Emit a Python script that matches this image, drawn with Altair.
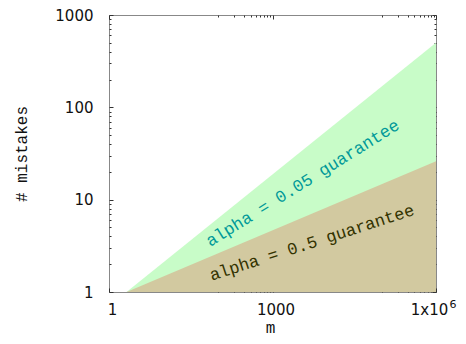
import altair as alt
import pandas as pd

# Boundary lines (log-log straight): m values and # mistakes
m_vals = [2.1, 1000000]
green_vals = [1, 500]   # alpha = 0.05 guarantee
tan_vals = [1, 26]      # alpha = 0.5 guarantee

x_major = [1, 1000, 1000000]
x_minor = [100, 200, 300, 400, 500, 600, 700, 800, 900,
           100000, 200000, 300000, 400000, 500000, 600000, 700000, 800000, 900000]
y_major = [1, 10, 100, 1000]
y_minor = [2, 3, 4, 5, 6, 7, 8, 9, 20, 30, 40, 50, 60, 70, 80, 90,
           200, 300, 400, 500, 600, 700, 800, 900]

ann_text = ["alpha = 0.05 guarantee", "alpha = 0.5 guarantee"]
ann_m = [3600, 5300]
ann_v = [15, 3.4]
ann_angle = [328, 342]
ann_color = ["#009999", "#333300"]

sup_m = [1000000]
sup_v = [1]
sup_text = ["6"]

green_df = pd.DataFrame({"m": m_vals, "v": green_vals})
tan_df = pd.DataFrame({"m": m_vals, "v": tan_vals})
ann_df = pd.DataFrame({"m": ann_m, "v": ann_v, "t": ann_text, "a": ann_angle, "c": ann_color})
sup_df = pd.DataFrame({"m": sup_m, "v": sup_v, "t": sup_text})

xs = alt.Scale(type="log", domain=[1, 1000000], nice=False)
ys = alt.Scale(type="log", domain=[1, 1000], nice=False)

TICK = "#333333"
LABEL_FONT = "DejaVu Sans"
MONO = "Liberation Mono"

def xaxis(values, orient, size, labels=False, title=None):
    kw = dict(values=values, orient=orient, offset=-size, tickSize=size, domain=False,
              grid=False, tickColor=TICK, labels=labels, title=title)
    if labels:
        kw.update(labelExpr="datum.value >= 1000000 ? '1x10' : format(datum.value, 'd')",
                  labelFont=LABEL_FONT, labelFontSize=15, labelColor="#111111",
                  labelPadding=10, labelFlush=False,
                  labelOffset={"condition": {"test": "datum.value >= 1000000", "value": -7},
                               "value": 3})
    if title:
        kw.update(titleFont=MONO, titleFontSize=16, titleFontWeight="normal",
                  titleColor="#111111", titleX=161, titleY=44, titleBaseline="alphabetic")
    return alt.Axis(**kw)

def yaxis(values, orient, size, labels=False, title=None):
    kw = dict(values=values, orient=orient, offset=-size, tickSize=size, domain=False,
              grid=False, tickColor=TICK, labels=labels, title=title)
    if labels:
        kw.update(labelExpr="format(datum.value, 'd')", labelFont=LABEL_FONT,
                  labelFontSize=15, labelColor="#111111", labelPadding=16)
    if title:
        kw.update(titleFont=MONO, titleFontSize=16, titleFontWeight="normal",
                  titleColor="#111111", titlePadding=25)
    return alt.Axis(**kw)

green = alt.Chart(green_df).mark_area(color="#c8fcc8", opacity=1).encode(
    x=alt.X("m:Q", scale=xs, axis=xaxis(x_major, "bottom", 4, labels=True, title="m")),
    y=alt.Y("v:Q", scale=ys, axis=yaxis(y_major, "left", 4, labels=True, title="# mistakes")),
    y2=alt.datum(1),
)

tan = alt.Chart(tan_df).mark_area(color="#d2c9a0", opacity=1).encode(
    x=alt.X("m:Q", scale=xs, axis=xaxis(x_minor, "bottom", 2)),
    y=alt.Y("v:Q", scale=ys, axis=yaxis(y_minor, "left", 2)),
    y2=alt.datum(1),
)

ann = alt.Chart(ann_df).mark_text(font=MONO, fontSize=17, align="center", baseline="middle").encode(
    x=alt.X("m:Q", scale=xs, axis=xaxis(x_major, "top", 4)),
    y=alt.Y("v:Q", scale=ys, axis=yaxis(y_major, "right", 4)),
    text="t:N",
    angle=alt.Angle("a:Q", scale=None),
    color=alt.Color("c:N", scale=None),
)

sup = alt.Chart(sup_df).mark_text(font=LABEL_FONT, fontSize=11, align="center",
                                  baseline="middle", dx=17, dy=13, color="#111111").encode(
    x=alt.X("m:Q", scale=xs, axis=xaxis(x_minor, "top", 2)),
    y=alt.Y("v:Q", scale=ys, axis=yaxis(y_minor, "right", 2)),
    text="t:N",
)

chart = alt.layer(green, tan, ann, sup).resolve_axis(
    x="independent", y="independent"
).properties(
    width=327, height=277,
    autosize=alt.AutoSizeParams(type="none"),
    padding={"left": 101, "top": 7, "right": 22, "bottom": 44},
).configure_view(stroke="#888888", strokeWidth=1)

chart.save("out.html", embed_options={"renderer": "svg", "actions": False})
